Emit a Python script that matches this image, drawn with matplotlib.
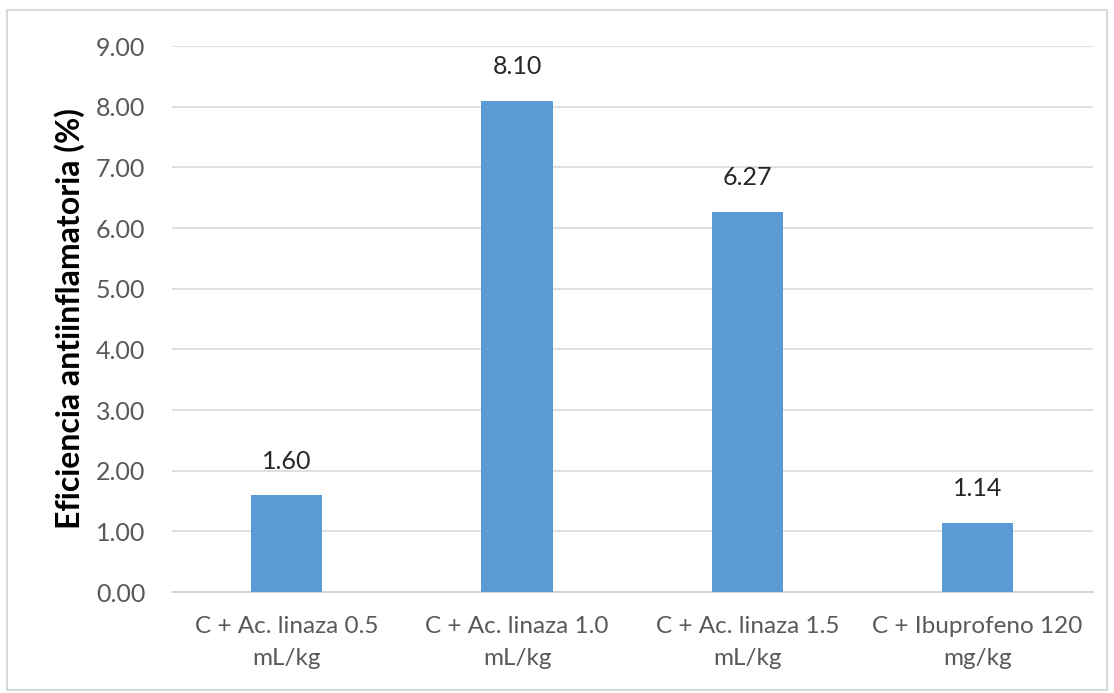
import matplotlib.pyplot as plt
from matplotlib.patches import Rectangle

categories = ['C + Ac. linaza 0.5\nmL/kg', 'C + Ac. linaza 1.0\nmL/kg',
              'C + Ac. linaza 1.5\nmL/kg', 'C + Ibuprofeno 120\nmg/kg']
values = [1.60, 8.10, 6.27, 1.14]
yticks = [0, 1, 2, 3, 4, 5, 6, 7, 8, 9]

plt.rcParams['font.family'] = ['Lato', 'DejaVu Sans']

fig = plt.figure(figsize=(11.14, 6.93), dpi=100)
ax = fig.add_axes([0.154, 0.1457, 0.827, 0.7879])

# light frame round the whole chart
fig.patches.append(Rectangle((0.006, 0.004), 0.988, 0.982, transform=fig.transFigure,
                             fill=False, edgecolor='#D9D9D9', linewidth=1.5))

x = range(len(values))
bars = ax.bar(x, values, width=0.31, color='#5B9BD5', zorder=3)
for b, v in zip(bars, values):
    ax.text(b.get_x() + b.get_width() / 2, v + 0.37, f'{v:.2f}',
            ha='center', va='bottom', fontsize=18, color='#262626')

ax.set_xlim(-0.5, len(values) - 0.5)
ax.set_ylim(0, 9)
ax.set_yticks(yticks)
ax.set_yticklabels([f'{t:.2f}' for t in yticks])
ax.set_xticks(list(x))
ax.set_xticklabels(categories, fontsize=17.5, color='#595959', linespacing=1.65)
ax.tick_params(axis='y', labelsize=18, labelcolor='#595959', length=0, pad=19)
ax.tick_params(axis='x', length=0, pad=17)

ax.grid(axis='y', color='#D9D9D9', linewidth=1.2, zorder=0)
for s in ['top', 'right', 'left']:
    ax.spines[s].set_visible(False)
ax.spines['bottom'].set_color('#D0D0D0')
ax.spines['bottom'].set_linewidth(1.2)

ax.set_ylabel('Eficiencia antiinflamatoria (%)', fontsize=23, fontweight='bold',
              color='black', labelpad=8)

fig.savefig('out.png', dpi=100)
